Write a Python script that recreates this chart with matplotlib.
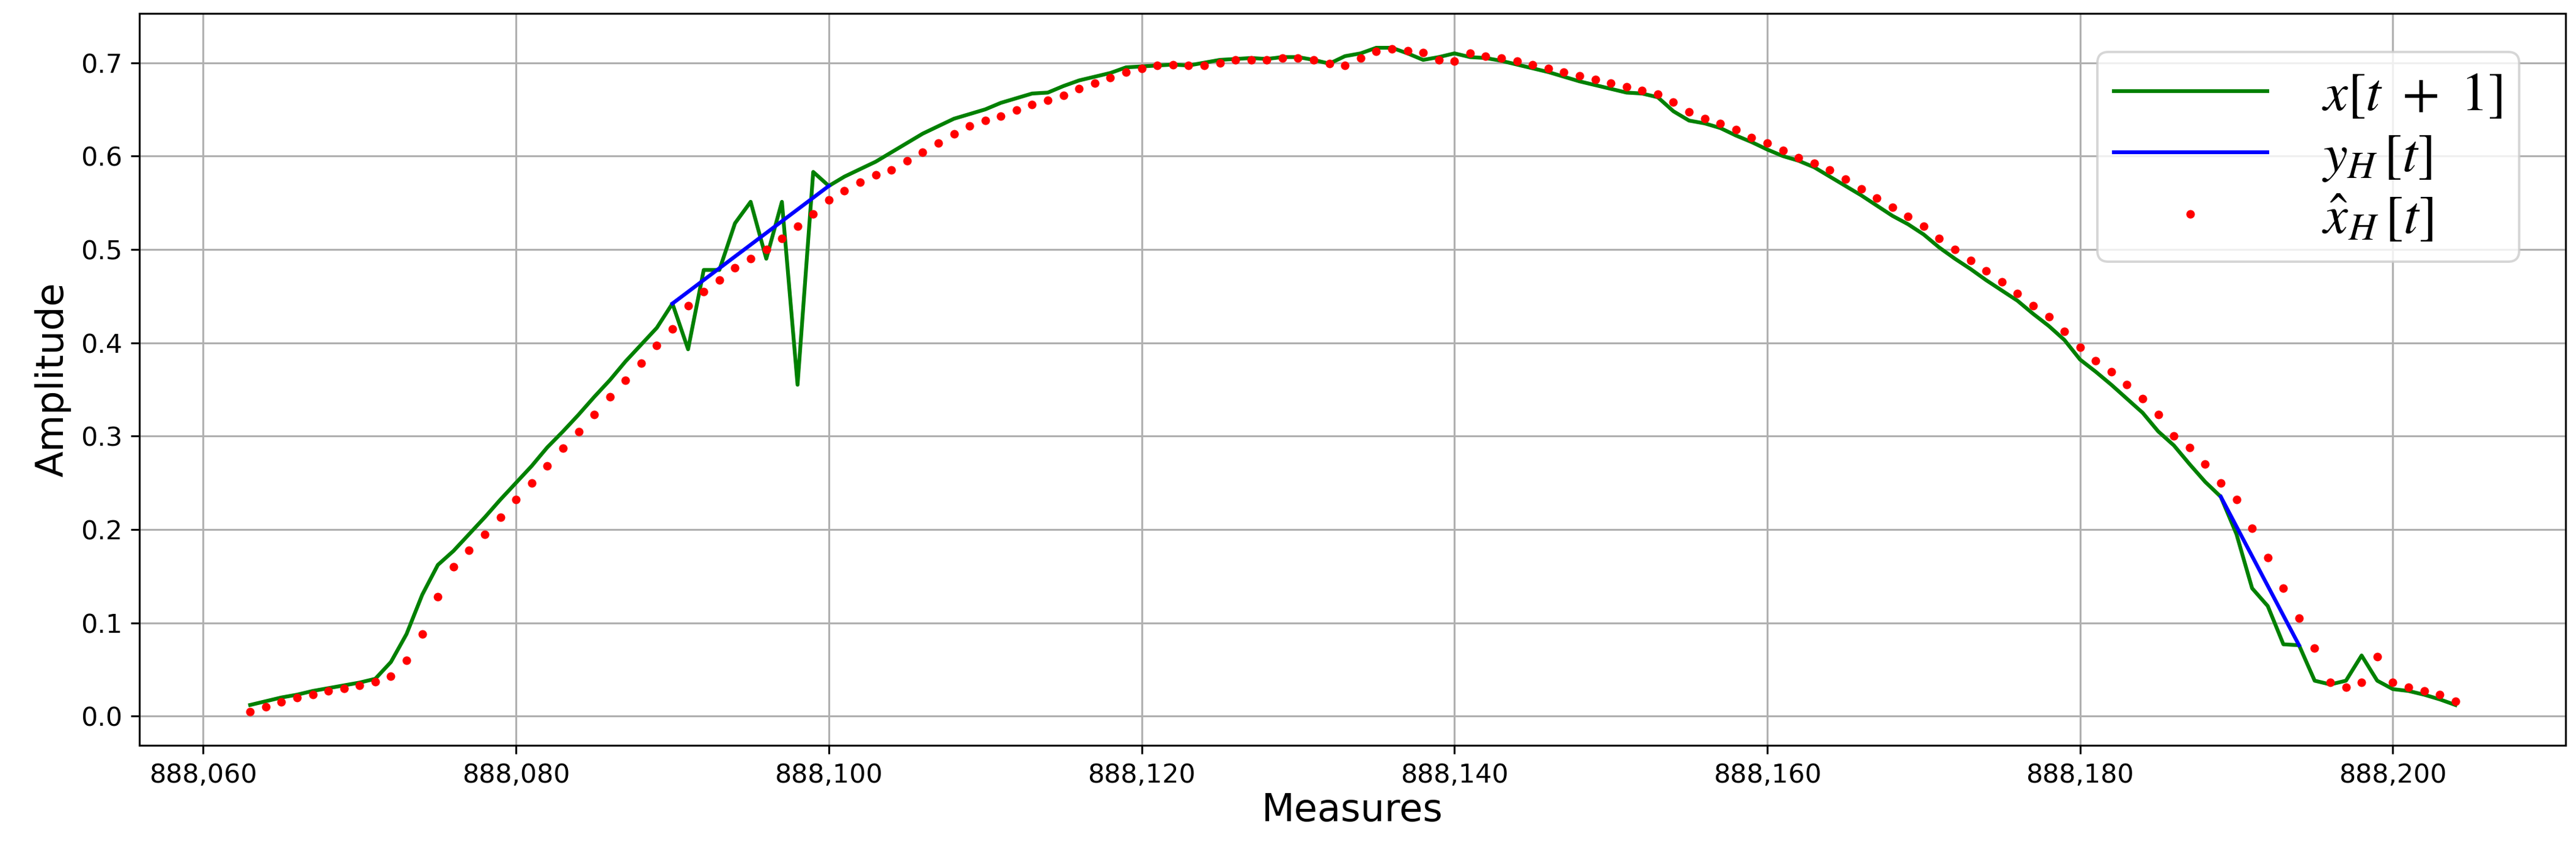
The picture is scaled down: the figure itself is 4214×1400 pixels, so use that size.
import numpy as np
import matplotlib
matplotlib.use("Agg")
import matplotlib.pyplot as plt
from matplotlib.ticker import FuncFormatter

x = np.arange(888063, 888205)
x_hat = [0.005,0.01,0.015,0.02,0.023,0.027,0.03,0.033,0.037,0.043,0.06,0.088,0.128,0.16,0.178,0.195,0.213,0.232,0.25,0.268,
         0.287,0.305,0.323,0.342,0.36,0.378,0.397,0.415,0.44,0.455,0.467,0.48,0.49,0.5,0.512,0.525,0.538,0.553,0.563,0.572,
         0.58,0.585,0.595,0.604,0.614,0.624,0.632,0.638,0.643,0.649,0.655,0.66,0.665,0.672,0.678,0.684,0.69,0.694,0.697,0.698,
         0.697,0.697,0.7,0.703,0.703,0.703,0.705,0.705,0.703,0.699,0.697,0.705,0.712,0.715,0.713,0.711,0.703,0.702,0.71,0.707,
         0.705,0.702,0.698,0.694,0.69,0.686,0.682,0.678,0.674,0.67,0.666,0.658,0.647,0.64,0.635,0.628,0.62,0.614,0.606,0.598,
         0.592,0.585,0.575,0.565,0.555,0.545,0.535,0.525,0.512,0.5,0.488,0.477,0.465,0.453,0.44,0.428,0.412,0.395,0.381,0.369,
         0.355,0.34,0.323,0.3,0.288,0.27,0.25,0.232,0.201,0.17,0.137,0.105,0.073,0.036,0.031,0.036,0.064,0.036,0.031,0.027,
         0.023,0.016]
x_next = [0.012,0.016,0.02,0.023,0.027,0.03,0.033,0.036,0.04,0.058,0.088,0.13,0.162,0.177,0.195,0.213,0.232,0.25,0.268,0.288,
          0.305,0.323,0.342,0.36,0.38,0.398,0.416,0.442,0.393,0.478,0.478,0.528,0.551,0.49,0.551,0.355,0.583,0.568,0.578,0.586,
          0.594,0.604,0.614,0.624,0.632,0.64,0.645,0.65,0.657,0.662,0.667,0.668,0.675,0.681,0.685,0.689,0.695,0.696,0.697,0.698,
          0.697,0.7,0.703,0.704,0.705,0.704,0.706,0.706,0.703,0.699,0.707,0.71,0.716,0.716,0.71,0.703,0.706,0.71,0.706,0.705,
          0.702,0.698,0.694,0.69,0.685,0.68,0.676,0.672,0.668,0.667,0.663,0.648,0.638,0.635,0.63,0.622,0.615,0.607,0.6,0.595,
          0.588,0.578,0.568,0.558,0.547,0.536,0.527,0.516,0.502,0.49,0.479,0.467,0.456,0.445,0.431,0.418,0.403,0.382,0.369,0.355,
          0.34,0.325,0.305,0.29,0.27,0.251,0.235,0.195,0.137,0.118,0.077,0.076,0.038,0.034,0.038,0.065,0.038,0.029,0.027,0.023,
          0.018,0.012]
yh_x = [888090, 888100, np.nan, 888189, 888194]
yh_y = [0.442, 0.568, np.nan, 0.235, 0.076]

plt.rcParams['mathtext.fontset'] = 'stix'
fig = plt.figure(figsize=(15.05, 5), dpi=280)
ax = fig.add_axes([0.054, 0.129, 0.942, 0.855])
ax.plot(x, x_next, color='green', lw=1.6, label=r'$x[t\ +\ 1]$', zorder=2)
ax.plot(yh_x, yh_y, color='blue', lw=1.6, label=r'$y_H\,[t]$', zorder=3)
ax.plot(x, x_hat, 'o', color='red', ms=3.6, mec='none', label=r'$\hat{x}_H\,[t]$', zorder=4)
ax.set_xlim(888055.9, 888211.05)
ax.set_ylim(-0.0315, 0.7525)
ax.set_xticks(np.arange(888060, 888201, 20))
ax.xaxis.set_major_formatter(FuncFormatter(lambda v, p: f"{int(v):,}"))
ax.set_yticks(np.arange(0, 0.71, 0.1))
ax.grid(True, color='#b0b0b0', lw=0.8)
ax.tick_params(labelsize=11)
ax.set_xlabel('Measures', fontsize=16, labelpad=2)
ax.set_ylabel('Amplitude', fontsize=16)
ax.legend(loc='upper right', fontsize=23, handlelength=2.8, borderpad=0.3, labelspacing=0.15,
          handletextpad=1.0, bbox_to_anchor=(0.992, 0.985))
fig.savefig('out.png', dpi=280)
